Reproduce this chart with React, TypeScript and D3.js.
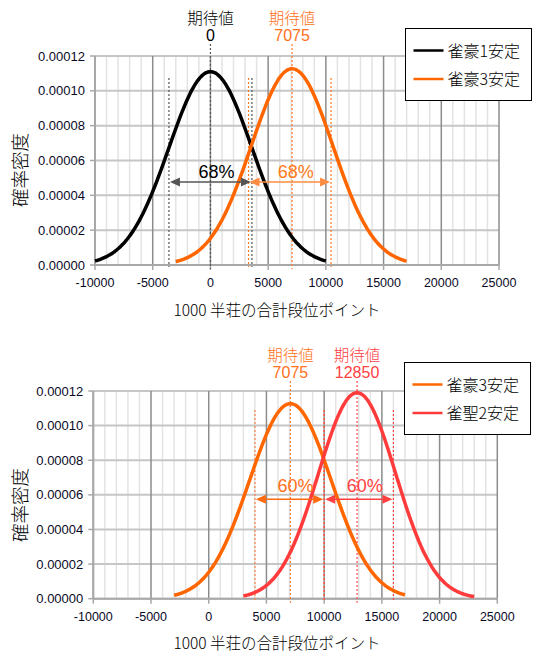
import React from "react";
import * as d3 from "d3";

// ---- data ----
const xTicks = [-10000, -5000, 0, 5000, 10000, 15000, 20000, 25000];
const yTicks = [0, 0.00002, 0.00004, 0.00006, 0.00008, 0.0001, 0.00012];
const seriesNames = ["雀豪1安定", "雀豪3安定", "雀聖2安定"];
const seriesMeans = [0, 7075, 12850];
const seriesSds = [3594, 3540, 3352];
const seriesMin = [-10000, -3000, 3000];
const seriesMax = [10000, 17000, 23000];
const seriesColors = ["#000000", "#ff6600", "#ff3b3b"];
const topSeries = [0, 1];
const bottomSeries = [1, 2];
// interval annotations: [series, from, to, label]
const topIntervals: [number, number, number, string][] = [
  [0, -3594, 3594, "68%"],
  [1, 3300, 10450, "68%"],
];
const bottomIntervals: [number, number, number, string][] = [
  [1, 4000, 10000, "60%"],
  [2, 10000, 16000, "60%"],
];
const expectLabel = "期待値";
const xTitle = "1000 半荘の合計段位ポイント";
const yTitle = "確率密度";

const CJK = "'Noto Sans CJK JP', sans-serif";
const ARIAL = "'Liberation Sans', Arial, sans-serif";

function pdf(x: number, m: number, s: number) {
  return Math.exp(-((x - m) ** 2) / (2 * s * s)) / (s * Math.sqrt(2 * Math.PI));
}

type PanelProps = {
  left: number; right: number; top: number; bottom: number;
  series: number[];
  intervals: [number, number, number, string][];
  labelY: number;
  centerTop: number;
  dotTop: number;
  arrowY: number;
  textY: number;
  legend: { x: number; y: number; w: number; h: number };
  titleY: number;
  yTitleY: number;
  dotColors: string[];
  arrowColors: string[];
  textColors: string[];
  labelColors: string[];
};

function Panel(p: PanelProps) {
  const x = d3.scaleLinear().domain([-10000, 25000]).range([p.left, p.right]);
  const y = d3.scaleLinear().domain([0, 0.00012]).range([p.bottom, p.top]);
  const minor = d3.range(-10000, 25001, 1000).filter((v) => v % 5000 !== 0);
  const line = d3
    .line<[number, number]>()
    .x((d) => x(d[0]))
    .y((d) => y(d[1]))
    .curve(d3.curveBasis);

  const arrowHead = (xt: number, yy: number, dir: number, color: string) => {
    const L = 10, W = 4.5;
    return (
      <polygon
        points={`${xt},${yy} ${xt - dir * L},${yy - W} ${xt - dir * L},${yy + W}`}
        fill={color}
      />
    );
  };

  return (
    <g>
      {minor.map((v) => (
        <line key={"m" + v} x1={x(v)} x2={x(v)} y1={p.top} y2={p.bottom} stroke="#e3e3e3" strokeWidth={1.5} />
      ))}
      {yTicks.map((v) => (
        <line key={"h" + v} x1={p.left} x2={p.right} y1={y(v)} y2={y(v)} stroke="#c6c6c6" strokeWidth={2} />
      ))}
      {xTicks.map((v) => (
        <line key={"M" + v} x1={x(v)} x2={x(v)} y1={p.top} y2={p.bottom} stroke="#8c8c8c" strokeWidth={1.5} />
      ))}
      <line x1={p.left} x2={p.left} y1={p.top} y2={p.bottom} stroke="#a8a8a8" strokeWidth={2} />
      <line x1={p.left} x2={p.right} y1={p.bottom} y2={p.bottom} stroke="#a8a8a8" strokeWidth={2} />
      {yTicks.map((v) => (
        <line key={"yt" + v} x1={p.left - 5} x2={p.left} y1={y(v)} y2={y(v)} stroke="#a8a8a8" strokeWidth={1.5} />
      ))}
      {xTicks.map((v) => (
        <line key={"xt" + v} x1={x(v)} x2={x(v)} y1={p.bottom} y2={p.bottom + 5} stroke="#a8a8a8" strokeWidth={1.5} />
      ))}
      {yTicks.map((v) => (
        <text key={"yl" + v} x={p.left - 10} y={y(v) + 4.5} textAnchor="end" fontFamily={ARIAL} fontSize={13} fill="#0a0a28">
          {v.toFixed(5)}
        </text>
      ))}
      {xTicks.map((v) => (
        <text key={"xl" + v} x={x(v)} y={p.bottom + 22} textAnchor="middle" fontFamily={ARIAL} fontSize={12.5} fill="#0a0a28">
          {v}
        </text>
      ))}
      <text x={277} y={p.titleY} textAnchor="middle" fontFamily={CJK} fontWeight={300} fontSize={15.5} fill="#000">
        {xTitle}
      </text>
      <text
        x={0}
        y={0}
        transform={`translate(${27},${p.yTitleY}) rotate(-90)`}
        textAnchor="middle"
        fontFamily={CJK}
        fontWeight={300}
        fontSize={18.5}
        fill="#000"
      >
        {yTitle}
      </text>

      {p.intervals.map(([s, a, b], i) => (
        <g key={"iv" + i}>
          {[a, b].map((v, j) => (
            <line key={j} x1={x(v)} x2={x(v)} y1={p.dotTop} y2={p.bottom + 2} stroke={p.dotColors[i]} strokeWidth={1.2} strokeDasharray="2,2" />
          ))}
        </g>
      ))}
      {p.series.map((s, i) => (
        <line key={"c" + s} x1={x(seriesMeans[s])} x2={x(seriesMeans[s])} y1={p.centerTop} y2={p.bottom + 4} stroke={p.dotColors[i]} strokeWidth={1.2} strokeDasharray="2,2" />
      ))}

      {p.series.map((s) => {
        const pts: [number, number][] = d3
          .range(seriesMin[s], seriesMax[s] + 1, 100)
          .map((v) => [v, pdf(v, seriesMeans[s], seriesSds[s])]);
        return <path key={"p" + s} d={line(pts) || ""} fill="none" stroke={seriesColors[s]} strokeWidth={3.5} />;
      })}

      {p.intervals.map(([s, a, b, lab], i) => {
        const xa = x(a) + 1, xb = x(b) - 1;
        return (
          <g key={"ar" + i}>
            <line x1={xa + 8} x2={xb - 8} y1={p.arrowY} y2={p.arrowY} stroke={p.arrowColors[i]} strokeWidth={1.6} />
            {arrowHead(xa, p.arrowY, -1, p.arrowColors[i])}
            {arrowHead(xb, p.arrowY, 1, p.arrowColors[i])}
            <text x={(x(a) + x(b)) / 2 + 6} y={p.textY} textAnchor="middle" fontFamily={ARIAL} fontSize={18} fill={p.textColors[i]}>
              {lab}
            </text>
          </g>
        );
      })}

      {p.series.map((s, i) => (
        <g key={"ev" + s}>
          <text x={x(seriesMeans[s])} y={p.labelY} textAnchor="middle" fontFamily={CJK} fontWeight={300} fontSize={15.5} fill={p.labelColors[i]}>
            {expectLabel}
          </text>
          <text x={x(seriesMeans[s])} y={p.labelY + 17} textAnchor="middle" fontFamily={ARIAL} fontSize={16} fill={p.labelColors[i]}>
            {seriesMeans[s]}
          </text>
        </g>
      ))}

      <rect x={p.legend.x} y={p.legend.y} width={p.legend.w} height={p.legend.h} fill="#fff" stroke="#000" strokeWidth={1} />
      {p.series.map((s, i) => {
        const ly = p.legend.y + 22 + i * 28.5;
        return (
          <g key={"lg" + s}>
            <line x1={p.legend.x + 8} x2={p.legend.x + 38} y1={ly} y2={ly} stroke={seriesColors[s]} strokeWidth={2.5} />
            <text x={p.legend.x + 42} y={ly + 6} fontFamily={CJK} fontWeight={300} fontSize={16} fill="#000">
              {seriesNames[s]}
            </text>
          </g>
        );
      })}
    </g>
  );
}

export default function App() {
  return (
    <svg
      width={537}
      height={658}
      style={{ position: "absolute", left: 0, top: 0, background: "#fff" }}
    >
      <rect width={537} height={658} fill="#fff" />
      <Panel
        left={95}
        right={499}
        top={56}
        bottom={265}
        series={topSeries}
        intervals={topIntervals}
        labelY={23.5}
        centerTop={44}
        dotTop={78}
        arrowY={182}
        textY={178}
        legend={{ x: 405.5, y: 28.5, w: 126, h: 72 }}
        titleY={316}
        yTitleY={170}
        dotColors={["#555555", "#ff7a20"]}
        arrowColors={["#555555", "#ff8c40"]}
        textColors={["#000000", "#ff7a20"]}
        labelColors={["#000000", "#ff7020"]}
      />
      <Panel
        left={93.3}
        right={497.3}
        top={391}
        bottom={598.7}
        series={bottomSeries}
        intervals={bottomIntervals}
        labelY={360.5}
        centerTop={381}
        dotTop={410}
        arrowY={499.3}
        textY={491.5}
        legend={{ x: 404.5, y: 362.5, w: 126, h: 72 }}
        titleY={649}
        yTitleY={505}
        dotColors={["#ff8040", "#ff4848"]}
        arrowColors={["#ff6a10", "#ff4040"]}
        textColors={["#ff7020", "#ff4040"]}
        labelColors={["#ff7020", "#ff4040"]}
      />
    </svg>
  );
}
